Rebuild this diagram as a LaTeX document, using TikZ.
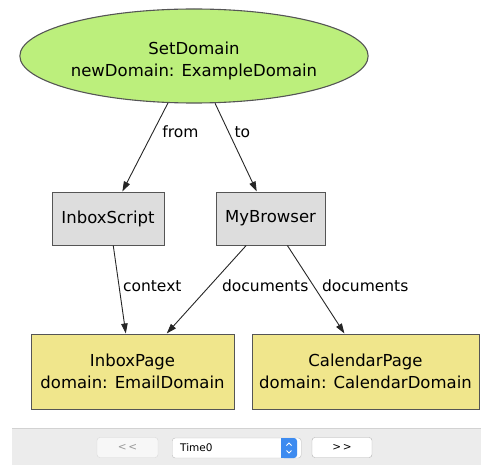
\documentclass[tikz,border=0pt]{standalone}
\usepackage{fontspec}
\setmainfont{DejaVu Sans}
\usepackage{tikz}
\usepackage{xcolor}
\usetikzlibrary{positioning,arrows.meta,shapes.geometric}

\definecolor{actgreen}{HTML}{BCEF7C}
\definecolor{objgray}{HTML}{DDDDDD}
\definecolor{pagekhaki}{HTML}{F0E68C}
\definecolor{edgegray}{HTML}{555555}
\definecolor{barbg}{HTML}{ECECEC}
\definecolor{barline}{HTML}{D2D2D2}
\definecolor{popblue}{HTML}{3D8BF0}

\begin{document}
\begin{tikzpicture}[x=1pt,y=-1pt,font=\fontsize{16.5}{22}\selectfont]
  \tikzstyle{act}=[draw=edgegray,line width=1.1pt,ellipse,fill=actgreen,minimum width=288pt,minimum height=94pt,inner sep=0pt,align=center,text height=45pt]
  \tikzstyle{obj}=[draw=edgegray,line width=1pt,fill=objgray,minimum height=53pt,inner sep=0pt]
  \tikzstyle{page}=[draw=edgegray,line width=1pt,fill=pagekhaki,minimum height=75pt,inner sep=0pt,align=center]
  \tikzstyle{rel}=[draw=black!85,line width=0.9pt,-{Triangle[length=10pt,width=6.5pt]}]
  \tikzstyle{lbl}=[font=\fontsize{15.5}{18}\selectfont,inner sep=0pt]
  \tikzstyle{btn}=[rounded corners=3pt,minimum width=61pt,minimum height=20pt,inner sep=0pt,font=\fontsize{10.5}{12}\selectfont]
  \useasboundingbox (0,0) rectangle (481,465);
  % Action
  \node[act] (setdom) at (194,56) {SetDomain\\newDomain: ExampleDomain};
  % Objects
  \node[obj,minimum width=112pt] (inbox)   at (108,218.5) {InboxScript};
  \node[obj,minimum width=109pt] (browser) at (270.5,218.5) {MyBrowser};
  % Pages
  \node[page,minimum width=203pt] (inpage)  at (132.5,371.5) {InboxPage\\domain: EmailDomain};
  \node[page,minimum width=227pt] (calpage) at (365.5,371.5) {CalendarPage\\domain: CalendarDomain};
  % Relations
  \draw[rel] (setdom.241) -- node[lbl,pos=0.326,right=8.8pt] (lfrom) {from} (inbox.62);
  \draw[rel] (setdom.294) -- node[lbl,pos=0.326,right=5.5pt] (lto) {to} (browser.117);
  \draw[rel] (inbox.281) -- node[lbl,pos=0.46,right=3.6pt] (lctx) {context} (inpage.100);
  \draw[rel] (browser.228) -- node[lbl,pos=0.46,right=12pt] (ldoca) {documents} (inpage.48);
  \draw[rel] (browser.302) -- node[lbl,pos=0.46,right=8pt] (ldocb) {documents} (calpage.119);
  % Time bar
  \fill[barbg] (12,428) rectangle (481,465);
  \draw[barline,line width=1pt] (12,428) -- (481,428);
  \node[btn,draw=black!15,fill=black!3,text=black!40] (prev) at (127.5,447.5) {<{}\,<{}};
  \node[btn,draw=black!25,fill=white,minimum width=125pt,anchor=west,text width=113pt,align=left,inner xsep=8pt] (timesel) at (172,448) {Time0};
  \fill[popblue,rounded corners=3pt] (281,438) rectangle (297,458);
  \fill[popblue] (281,438) rectangle (289,458);
  \draw[white,line width=0.9pt] (286.5,445.5) -- (289,443) -- (291.5,445.5);
  \draw[white,line width=0.9pt] (286.5,450.5) -- (289,453) -- (291.5,450.5);
  \node[btn,draw=black!30,fill=white,minimum width=60pt] (next) at (342,447.5) {>{}\,>{}};
\end{tikzpicture}
\end{document}
